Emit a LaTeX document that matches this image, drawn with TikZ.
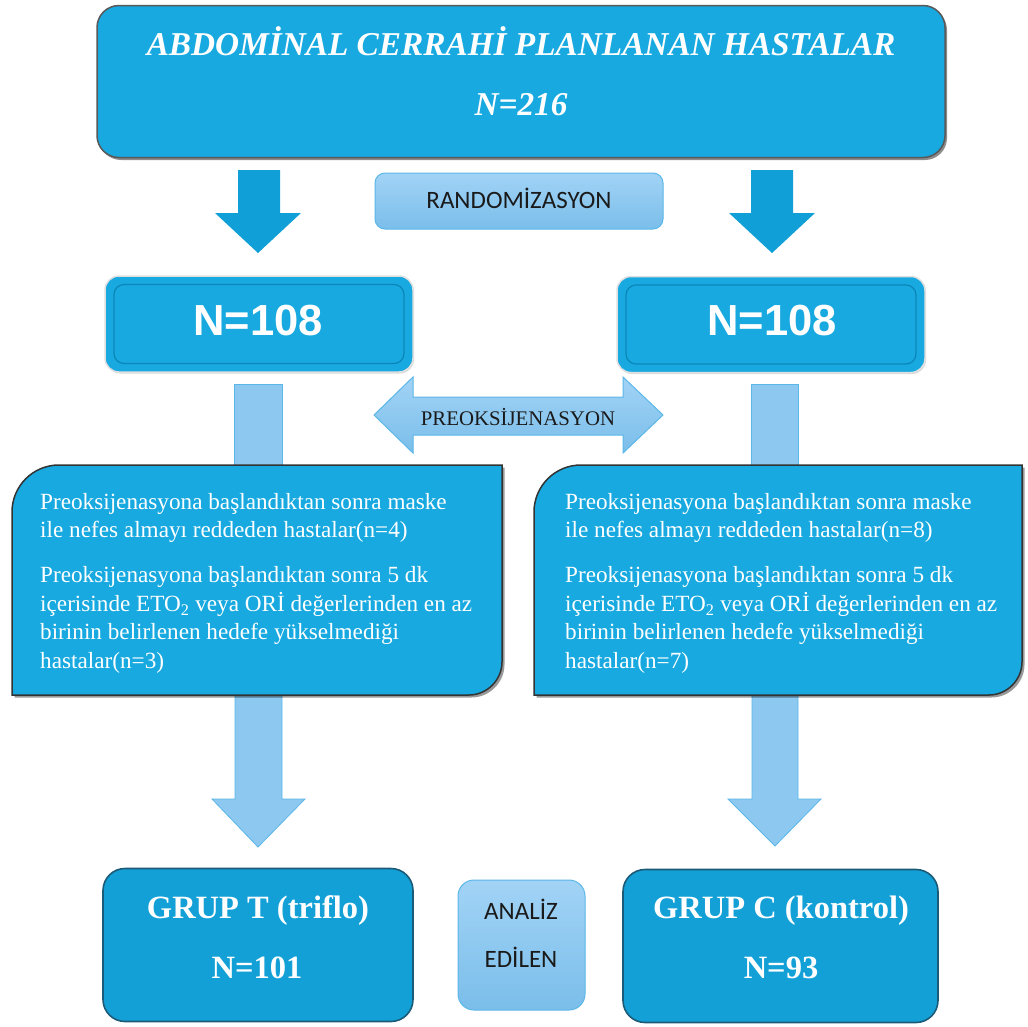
\documentclass[tikz,border=0pt]{standalone}
\usepackage{fontspec}
\setmainfont{Liberation Serif}
\newfontfamily\arialf{Liberation Sans}
\newfontfamily\calib{Carlito}
\usetikzlibrary{shadows,calc}
\definecolor{mainblue}{HTML}{17A9E0}
\definecolor{darkarrow}{HTML}{109FD6}
\definecolor{grupblue}{HTML}{12A0D7}
\definecolor{grupborder}{HTML}{1C5B78}
\definecolor{lighttop}{HTML}{A2D3F6}
\definecolor{lightbot}{HTML}{7ABEEA}
\definecolor{lightfill}{HTML}{8CC8EF}
\definecolor{lightborder}{HTML}{5BB7E8}
\definecolor{rimblue}{HTML}{0C86B9}
\definecolor{txtdark}{HTML}{1A1A1A}
\begin{document}
\begin{tikzpicture}[x=1pt,y=-1pt,
  topbox/.style={draw=black!65, line width=1.5pt, fill=mainblue, rounded corners=22pt,
     minimum width=848pt, minimum height=152pt, inner sep=0pt,
     drop shadow={shadow xshift=2pt, shadow yshift=-2.5pt, opacity=0.45, fill=black}},
  nbox/.style={draw=black!12, line width=1.5pt, fill=mainblue, rounded corners=14pt,
     minimum width=308pt, minimum height=96pt, inner sep=0pt,
     drop shadow={shadow xshift=1pt, shadow yshift=-1.5pt, opacity=0.15, fill=black}},
  rim/.style={draw=rimblue, line width=1.2pt, rounded corners=10pt,
     minimum width=290pt, minimum height=79pt, inner sep=0pt},
  lightbox/.style={draw=lightborder, line width=1pt, top color=lighttop, bottom color=lightbot,
     inner sep=0pt},
  grupbox/.style={draw=grupborder, line width=1.6pt, fill=grupblue, rounded corners=22pt,
     minimum width=310pt, minimum height=153pt, inner sep=0pt},
  darrow/.style={fill=darkarrow},
  larrow/.style={draw=lightborder, line width=0.8pt, fill=lightfill},
  textbox/.style={draw=black!80, line width=1.5pt, fill=mainblue,
     drop shadow={shadow xshift=2.5pt, shadow yshift=-2.5pt, opacity=0.4, fill=black}},
  titlefont/.style={font=\fontsize{33.3}{40}\selectfont\bfseries\itshape, text=white, inner sep=0pt},
  grupfont/.style={font=\fontsize{32.5}{40}\selectfont\bfseries, text=white, inner sep=0pt},
  nfont/.style={font=\arialf\fontsize{43.5}{50}\selectfont\bfseries, text=white, inner sep=0pt},
  calfont/.style={font=\calib\fontsize{25}{28}\selectfont, text=txtdark, inner sep=0pt},
  bodyfont/.style={font=\fontsize{23.2}{28.5}\selectfont, text=white, align=left, inner sep=0pt}
]
\useasboundingbox[fill=white] (0,0) rectangle (1028,1026);

% ---------- top box
\node[topbox] (top) at (521,81.5) {};
\node[titlefont, anchor=base] (toptitle) at (521,55.5) {ABDOMİNAL CERRAHİ PLANLANAN HASTALAR};
\node[titlefont, anchor=base] (topn) at (521,115) {N=216};

% ---------- top dark arrows
\path[darrow] (238,170) -- (280,170) -- (280,213) -- (301,213) -- (258,253) -- (215,213) -- (238,213) -- cycle;
\path[darrow] (751,170) -- (793,170) -- (793,213) -- (815,213) -- (772,253) -- (729,213) -- (751,213) -- cycle;

% ---------- randomization
\node[lightbox, rounded corners=10pt, minimum width=288pt, minimum height=56pt] (rand) at (519,201) {};
\node[calfont, anchor=base] (randt) at (519,208) {RANDOMİZASYON};

% ---------- N=108 boxes
\node[nbox] (nl) at (259,324) {};
\node[rim] (nlrim) at (nl.center) {};
\node[nfont, anchor=base] (nlt) at (258,335) {N=108};
\node[nbox] (nr) at (771,324.5) {};
\node[rim] (nrrim) at (nr.center) {};
\node[nfont, anchor=base] (nrt) at (772,335) {N=108};

% ---------- light shafts under N=108
\path[larrow] (234,384) rectangle (282,470);
\path[larrow] (751,384) rectangle (798,470);

% ---------- preoksijenasyon double arrow
\path[lightbox] (374,415) -- (413,377) -- (413,397) -- (623,397) -- (623,377) -- (663,415)
   -- (623,453) -- (623,435) -- (413,435) -- (413,453) -- cycle;
\node[font=\fontsize{20.8}{24}\selectfont, text=txtdark, inner sep=0pt, anchor=base] (preo) at (518,425) {PREOKSİJENASYON};

% ---------- bottom light arrows
\path[larrow] (235,690) -- (282,690) -- (282,799) -- (305,799) -- (258,847) -- (212,799) -- (235,799) -- cycle;
\path[larrow] (752,690) -- (798,690) -- (798,799) -- (821,799) -- (775,846) -- (728,799) -- (752,799) -- cycle;

% ---------- text boxes
\path[textbox] (12,695) -- (12,512) .. controls (12,486) and (33,465) .. (59,465) -- (502,465)
   -- (502,662) .. controls (502,680) and (487,695) .. (469,695) -- cycle;
\path[textbox] (534,695) -- (534,512) .. controls (534,486) and (555,465) .. (581,465) -- (1022,465)
   -- (1022,662) .. controls (1022,680) and (1007,695) .. (989,695) -- cycle;

\node[bodyfont, anchor=north west] (ltext) at (40,493) {Preoksijenasyona başlandıktan sonra maske\\
ile nefes almayı reddeden hastalar(n=4)\\[16.5pt]
Preoksijenasyona başlandıktan sonra 5 dk\\
içerisinde ETO\textsubscript{2} veya ORİ değerlerinden en az\\
birinin belirlenen hedefe yükselmediği\\
hastalar(n=3)};
\node[bodyfont, anchor=north west] (rtext) at (565,493) {Preoksijenasyona başlandıktan sonra maske\\
ile nefes almayı reddeden hastalar(n=8)\\[16.5pt]
Preoksijenasyona başlandıktan sonra 5 dk\\
içerisinde ETO\textsubscript{2} veya ORİ değerlerinden en az\\
birinin belirlenen hedefe yükselmediği\\
hastalar(n=7)};

% ---------- bottom boxes
\node[grupbox] (gt) at (258,945) {};
\node[grupfont, anchor=base] (gtt) at (258,918) {GRUP T (triflo)};
\node[grupfont, anchor=base] (gtn) at (257,978) {N=101};

\node[grupbox, minimum width=315pt] (gc) at (780.5,946) {};
\node[grupfont, anchor=base] (gct) at (781,918) {GRUP C (kontrol)};
\node[grupfont, anchor=base] (gcn) at (781,978) {N=93};

\node[lightbox, rounded corners=16pt, minimum width=127pt, minimum height=130pt] (an) at (521.5,945) {};
\node[calfont, anchor=base] (ant1) at (521,919) {ANALİZ};
\node[calfont, anchor=base] (ant2) at (521,967) {EDİLEN};
\end{tikzpicture}
\end{document}
